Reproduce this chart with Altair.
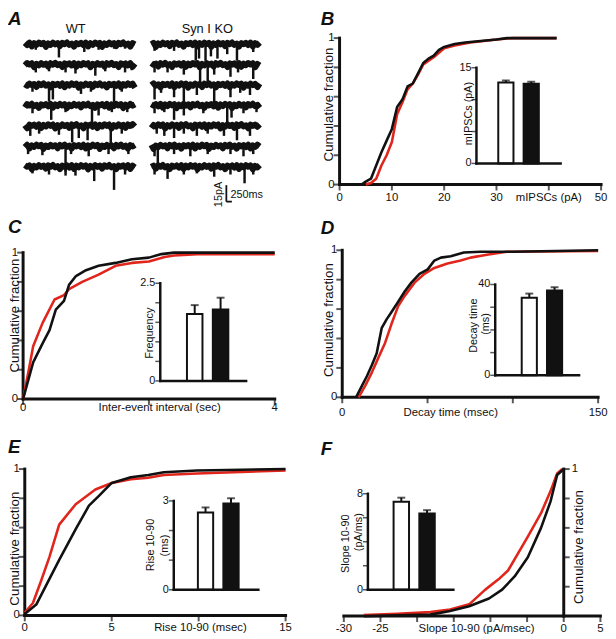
import altair as alt
import pandas as pd

W, H = 608, 631
FONT = "Liberation Sans"
RED = "#e0261c"
BLK = "#111111"
GROUPS = ["WT", "KO"]
LAB = 11.5

# ---------------- Panel A: example traces (event time fraction, amplitude pA) ----------------
GROUP_NAMES = ["WT", "Syn I KO"]
WT_EVENTS = [
    [(0.10, 4), (0.20, 3), (0.31, 11), (0.54, 6), (0.67, 4), (0.81, 3), (0.91, 3)],
    [(0.10, 6), (0.22, 5), (0.37, 6), (0.46, 7), (0.64, 9), (0.73, 5), (0.91, 6), (0.97, 4)],
    [(0.07, 5), (0.22, 14), (0.255, 12), (0.51, 7), (0.60, 5), (0.81, 17), (0.88, 5)],
    [(0.07, 6), (0.24, 12), (0.37, 5), (0.61, 16), (0.67, 8), (0.79, 5), (0.93, 5)],
    [(0.05, 8), (0.13, 6), (0.31, 7), (0.43, 14), (0.49, 10), (0.57, 12), (0.78, 15), (0.88, 6)],
    [(0.03, 6), (0.16, 7), (0.37, 22), (0.42, 6), (0.58, 8), (0.76, 6), (0.94, 6)],
    [(0.07, 5), (0.22, 6), (0.37, 7), (0.46, 7), (0.63, 12), (0.81, 20), (0.91, 6)],
]
KO_EVENTS = [
    [(0.03, 5), (0.21, 5), (0.41, 14), (0.44, 12), (0.50, 14), (0.55, 10), (0.61, 12), (0.70, 8), (0.79, 14), (0.94, 6)],
    [(0.03, 6), (0.15, 6), (0.30, 8), (0.45, 14), (0.52, 16), (0.58, 8), (0.73, 10), (0.80, 6), (0.94, 12)],
    [(0.03, 12), (0.09, 6), (0.21, 10), (0.30, 14), (0.42, 8), (0.58, 16), (0.73, 10), (0.82, 6), (0.91, 8)],
    [(0.03, 6), (0.12, 5), (0.21, 12), (0.30, 8), (0.48, 6), (0.70, 14), (0.74, 10), (0.85, 6), (0.97, 5)],
    [(0.05, 6), (0.12, 8), (0.21, 10), (0.30, 6), (0.42, 8), (0.52, 6), (0.67, 8), (0.79, 12), (0.91, 8)],
    [(0.03, 8), (0.06, 18), (0.21, 6), (0.36, 8), (0.52, 6), (0.73, 6), (0.85, 8), (0.94, 6)],
    [(0.03, 6), (0.15, 10), (0.30, 6), (0.42, 5), (0.58, 8), (0.73, 6), (0.86, 14), (0.94, 6)],
]
NOISE = [0.8, -1.2, 1.0, -2.4, 0.5, -1.0, 1.1, -0.4, 0.9, -2.8, 0.3, -1.1,
         1.0, -0.6, 0.6, -2.2, 0.9, -0.5, 1.2, -1.0, 0.2, -2.6, 0.7, -0.5]
TRACE_START = [0.0, 5.74]
TRACE_LEN = [5.0, 4.92]
ROW_STEP = 18.6
N_PTS = 48
GROUP_LABEL_T = [2.31, 8.28]
GROUP_LABEL_V = [13.5, 13.5]
SCALEBAR_T = [9.145, 9.395]     # 250 ms
SCALEBAR_V = [-143.8, -128.8]   # 15 pA

# ---------------- Cumulative distributions ----------------
B_WT_X = [5, 6, 7, 8, 9, 10, 11, 12, 13, 14, 15, 16, 18, 20, 22, 25, 30, 33, 41.5]
B_WT_Y = [0, 0.01, 0.04, 0.13, 0.2, 0.29, 0.48, 0.56, 0.65, 0.69, 0.75, 0.82, 0.87, 0.93, 0.95, 0.97, 0.99, 1.0, 1.0]
B_KO_X = [4.2, 5, 6, 7, 8, 9, 10, 11, 12, 13, 14, 15, 16, 17, 18, 19, 20, 22, 24, 27, 30, 32, 41.5]
B_KO_Y = [0, 0.02, 0.04, 0.13, 0.22, 0.3, 0.38, 0.53, 0.58, 0.67, 0.69, 0.76, 0.83, 0.86, 0.88, 0.92, 0.94, 0.96, 0.97, 0.98, 0.99, 1.0, 1.0]

C_WT_X = [0, 0.1, 0.16, 0.31, 0.5, 0.65, 0.73, 0.94, 1.2, 1.47, 1.73, 2.0, 2.25, 2.4, 2.77, 4.0]
C_WT_Y = [0, 0.22, 0.36, 0.52, 0.68, 0.71, 0.75, 0.8, 0.85, 0.91, 0.93, 0.94, 0.97, 0.98, 0.99, 0.99]
C_KO_X = [0, 0.16, 0.31, 0.42, 0.52, 0.65, 0.73, 0.84, 1.0, 1.2, 1.47, 1.73, 2.0, 2.2, 2.4, 4.0]
C_KO_Y = [0, 0.25, 0.38, 0.47, 0.61, 0.67, 0.78, 0.84, 0.88, 0.91, 0.93, 0.955, 0.966, 0.99, 1.0, 1.0]

D_WT_X = [9.6, 13.5, 17.4, 21.2, 25.1, 28.9, 32.8, 36.6, 42.4, 48.2, 54, 61.7, 69.4, 75.2, 84.8, 96.4, 150]
D_WT_Y = [0, 0.08, 0.17, 0.27, 0.37, 0.5, 0.62, 0.69, 0.78, 0.84, 0.88, 0.91, 0.93, 0.95, 0.97, 0.99, 0.995]
D_KO_X = [8.1, 11.6, 14.5, 17.4, 20.2, 23.1, 26, 28.9, 32.8, 36.6, 40.5, 45.3, 50.1, 54, 57.8, 63.6, 71.3, 81, 100, 150]
D_KO_Y = [0, 0.08, 0.145, 0.22, 0.3, 0.47, 0.53, 0.58, 0.65, 0.72, 0.78, 0.84, 0.87, 0.93, 0.95, 0.96, 0.985, 0.99, 0.99, 1.0]

E_WT_X = [0, 0.47, 0.95, 1.42, 1.98, 2.93, 4.06, 5.0, 6.1, 7.1, 8.0, 9.9, 15]
E_WT_Y = [0.02, 0.085, 0.24, 0.4, 0.62, 0.76, 0.86, 0.905, 0.93, 0.94, 0.96, 0.97, 0.99]
E_KO_X = [0, 0.66, 1.42, 1.98, 2.93, 3.69, 4.25, 5.0, 6.1, 7.1, 8.0, 9.9, 15]
E_KO_Y = [0.01, 0.074, 0.25, 0.38, 0.59, 0.75, 0.815, 0.905, 0.944, 0.96, 0.978, 0.99, 1.0]

F_WT_X = [-27.3, -22.7, -18.2, -15.5, -12.9, -10.7, -8.9, -7.6, -4.9, -3.1, -1.8, -0.9, -0.2]
F_WT_Y = [0.007, 0.015, 0.027, 0.045, 0.08, 0.18, 0.25, 0.31, 0.54, 0.7, 0.85, 0.97, 1.0]
F_KO_X = [-27.3, -18.2, -15.5, -12.9, -10.2, -8.4, -6.7, -4.9, -3.1, -1.8, -0.9, 0]
F_KO_Y = [0.0, 0.01, 0.035, 0.067, 0.12, 0.18, 0.27, 0.4, 0.6, 0.78, 0.96, 1.0]

# ---------------- axis ticks / labels ----------------
FRAC_TICKS = [0, 0.2, 0.4, 0.6, 0.8, 1]
B_XTICKS = [0, 10, 20, 30, 40, 50]
B_XLAB_AT = [0, 10, 20, 30, 40, 50]
B_XLABELS = ["0", "10", "20", "30", "mIPSCs (pA)", "50"]
C_XTICKS = [0, 2, 4]
C_XLAB_AT = [0, 2.17, 4]
C_XLABELS = ["0", "Inter-event interval (sec)", "4"]
D_XTICKS = [0, 50, 100, 150]
D_XLAB_AT = [0, 63.6, 150]
D_XLABELS = ["0", "Decay time (msec)", "150"]
E_XTICKS = [0, 5, 10, 15]
E_XLAB_AT = [0, 5, 10.1, 15]
E_XLABELS = ["0", "5", "Rise 10-90 (msec)", "15"]
F_XTICKS = [-30, -25, -20, -15, -10, -5, 0, 5]
F_XLAB_AT = [-30, -25, -11.9, 0, 5]
F_XLABELS = ["-30", "-25", "Slope 10-90 (pA/msec)", "0", "5"]

# ---------------- Inset bar values (WT, KO) ----------------
B_MEAN, B_ERR = [12.7, 12.5], [0.3, 0.3]
C_MEAN, C_ERR = [1.71, 1.83], [0.23, 0.30]
D_MEAN, D_ERR = [34.2, 37.4], [1.8, 1.4]
E_MEAN, E_ERR = [2.61, 2.91], [0.17, 0.18]
F_MEAN, F_ERR = [7.34, 6.36], [0.33, 0.27]


# ---------------- helpers ----------------
def curve_panel(wt_x, wt_y, ko_x, ko_y, xdom, xrange, yrange, xticks, xlab_at, xlabs, xlab_dy,
                yaxis_at, ylab_at, ylabs, side, title_y, title_dx):
    xs = alt.Scale(domain=xdom, range=xrange, nice=False, zero=False)
    ys = alt.Scale(domain=[0, 1], range=yrange, nice=False, zero=False)

    def X(f):
        return alt.X(f, scale=xs, axis=None)

    def Y(f):
        return alt.Y(f, scale=ys, axis=None)

    sgn = -1 if side == "left" else 1
    layers = [
        alt.Chart(pd.DataFrame({"x": [xdom[0]], "x2": [xdom[1]], "y": [0]})).mark_rule(
            color=BLK, strokeWidth=3, strokeCap="square").encode(x=X("x:Q"), x2="x2:Q", y=Y("y:Q")),
        alt.Chart(pd.DataFrame({"x": [yaxis_at], "y": [0], "y2": [1]})).mark_rule(
            color=BLK, strokeWidth=3, strokeCap="square").encode(x=X("x:Q"), y=Y("y:Q"), y2="y2:Q"),
        alt.Chart(pd.DataFrame({"x": xticks, "y": [0] * len(xticks)})).mark_tick(
            orient="vertical", size=6, thickness=2, yOffset=3, color=BLK).encode(x=X("x:Q"), y=Y("y:Q")),
        alt.Chart(pd.DataFrame({"x": [yaxis_at] * len(FRAC_TICKS), "y": FRAC_TICKS})).mark_tick(
            orient="horizontal", size=6, thickness=2, xOffset=3 * sgn, color=BLK).encode(x=X("x:Q"), y=Y("y:Q")),
        alt.Chart(pd.DataFrame({"x": xlab_at, "y": [0] * len(xlab_at), "label": xlabs})).mark_text(
            font=FONT, fontSize=LAB, color=BLK, align="center", baseline="middle", dy=xlab_dy).encode(
            x=X("x:Q"), y=Y("y:Q"), text="label:N"),
        alt.Chart(pd.DataFrame({"x": [yaxis_at] * len(ylab_at), "y": ylab_at, "label": ylabs})).mark_text(
            font=FONT, fontSize=LAB, color=BLK, align="right" if side == "left" else "left",
            baseline="middle", dx=-5 if side == "left" else 8).encode(
            x=X("x:Q"), y=Y("y:Q"), text="label:N"),
        alt.Chart(pd.DataFrame({"x": [yaxis_at], "y": [title_y], "label": ["Cumulative fraction"]})).mark_text(
            font=FONT, fontSize=13.5, color=BLK, align="center", baseline="middle", angle=270,
            xOffset=title_dx).encode(x=X("x:Q"), y=Y("y:Q"), text="label:N"),
        alt.Chart(pd.DataFrame({"x": wt_x, "y": wt_y})).mark_line(
            color=RED, strokeWidth=2.6, strokeJoin="round").encode(x=X("x:Q"), y=Y("y:Q")),
        alt.Chart(pd.DataFrame({"x": ko_x, "y": ko_y})).mark_line(
            color=BLK, strokeWidth=2.6, strokeJoin="round").encode(x=X("x:Q"), y=Y("y:Q")),
    ]
    return alt.layer(*layers)


def inset_panel(means, errs, ymax, yticks, xrange, yrange, align, title_lines):
    df = pd.DataFrame({"group": GROUPS, "mean": means,
                       "upper": [m + e for m, e in zip(means, errs)]})
    xs = alt.Scale(domain=GROUPS, range=xrange, paddingInner=0.4, paddingOuter=0.86, align=align)
    ys = alt.Scale(domain=[0, ymax], range=yrange, nice=False, zero=False)

    def Y(f):
        return alt.Y(f, scale=ys, axis=None)

    x0, x1 = xrange
    top_label = str(ymax)
    layers = [
        alt.Chart(df).mark_bar(stroke=BLK, strokeWidth=2).encode(
            x=alt.X("group:N", scale=xs, axis=None), y=Y("mean:Q"),
            fill=alt.Fill("group:N", scale=alt.Scale(domain=GROUPS, range=["white", BLK]), legend=None)),
        alt.Chart(df).mark_rule(color=BLK, strokeWidth=2).encode(
            x=alt.X("group:N", scale=xs, axis=None), y=Y("mean:Q"), y2="upper:Q"),
        alt.Chart(df).mark_tick(color=BLK, thickness=2, size=8).encode(
            x=alt.X("group:N", scale=xs, axis=None), y=Y("upper:Q")),
        alt.Chart(pd.DataFrame({"y": [0], "y2": [ymax]})).mark_rule(
            color=BLK, strokeWidth=2.5, strokeCap="square").encode(x=alt.value(x0), y=Y("y:Q"), y2="y2:Q"),
        alt.Chart(pd.DataFrame({"y": [0]})).mark_rule(
            color=BLK, strokeWidth=2.5, strokeCap="square").encode(x=alt.value(x0), x2=alt.value(x1), y=Y("y:Q")),
        alt.Chart(pd.DataFrame({"y": yticks})).mark_tick(
            orient="horizontal", size=5, thickness=1.5, xOffset=-2.5, color=BLK).encode(
            x=alt.value(x0), y=Y("y:Q")),
        alt.Chart(pd.DataFrame({"y": [0, ymax], "label": ["0", top_label]})).mark_text(
            font=FONT, fontSize=11, color=BLK, align="right", baseline="middle", dx=-5).encode(
            x=alt.value(x0), y=Y("y:Q"), text="label:N"),
    ]
    for txt, dx, ty in title_lines:
        layers.append(alt.Chart(pd.DataFrame({"label": [txt]})).mark_text(
            font=FONT, fontSize=11, color=BLK, align="center", baseline="middle", angle=270).encode(
            x=alt.value(x0 + dx), y=alt.value(ty), text="label:N"))
    return alt.layer(*layers)


def letter(txt, x, y):
    return alt.Chart(pd.DataFrame({"label": [txt]})).mark_text(
        font=FONT, fontSize=19, fontWeight="bold", fontStyle="italic",
        align="left", baseline="alphabetic", color=BLK).encode(
        x=alt.value(x), y=alt.value(y), text="label:N")


# ---------------- Panel A ----------------
trace_rows, spike_rows = [], []
for g, events in enumerate([WT_EVENTS, KO_EVENTS]):
    for r, row_events in enumerate(events):
        base = -ROW_STEP * r
        for k in range(N_PTS):
            t = TRACE_START[g] + TRACE_LEN[g] * k / (N_PTS - 1)
            trace_rows.append({"id": f"{g}-{r}", "t": t,
                               "v": base + NOISE[(k + 5 * r + 7 * g) % len(NOISE)]})
        for f, a in row_events:
            spike_rows.append({"t": TRACE_START[g] + TRACE_LEN[g] * f, "v": base, "v2": base - a - 1.5})

tsc = alt.Scale(domain=[0, 11], range=[17, 262.7], nice=False, zero=False)
vsc = alt.Scale(domain=[-150, 10], range=[198.9, 20.9], nice=False, zero=False)


def TX(f):
    return alt.X(f, scale=tsc, axis=None)


def VY(f):
    return alt.Y(f, scale=vsc, axis=None)


traces = alt.Chart(pd.DataFrame(trace_rows)).mark_line(
    color=BLK, strokeWidth=6, strokeJoin="round").encode(x=TX("t:Q"), y=VY("v:Q"), detail="id:N")
spikes = alt.Chart(pd.DataFrame(spike_rows)).mark_rule(color=BLK, strokeWidth=2.5).encode(
    x=TX("t:Q"), y=VY("v:Q"), y2="v2:Q")
sb_v = alt.Chart(pd.DataFrame({"t": [SCALEBAR_T[0]], "v": [SCALEBAR_V[0]], "v2": [SCALEBAR_V[1]]})).mark_rule(
    color=BLK, strokeWidth=1.8).encode(x=TX("t:Q"), y=VY("v:Q"), y2="v2:Q")
sb_h = alt.Chart(pd.DataFrame({"t": [SCALEBAR_T[0]], "t2": [SCALEBAR_T[1]], "v": [SCALEBAR_V[0]]})).mark_rule(
    color=BLK, strokeWidth=1.8).encode(x=TX("t:Q"), x2="t2:Q", y=VY("v:Q"))
grp_txt = alt.Chart(pd.DataFrame({"t": GROUP_LABEL_T, "v": GROUP_LABEL_V, "label": GROUP_NAMES})).mark_text(
    font=FONT, fontSize=13, color=BLK, baseline="middle").encode(x=TX("t:Q"), y=VY("v:Q"), text="label:N")
sb_t1 = alt.Chart(pd.DataFrame({"t": [9.333], "v": [-137.8], "label": ["250ms"]})).mark_text(
    font=FONT, fontSize=11, color=BLK, align="left", baseline="middle").encode(
    x=TX("t:Q"), y=VY("v:Q"), text="label:N")
sb_t2 = alt.Chart(pd.DataFrame({"t": [8.805], "v": [-137.3], "label": ["15pA"]})).mark_text(
    font=FONT, fontSize=11, color=BLK, align="center", baseline="middle", angle=270).encode(
    x=TX("t:Q"), y=VY("v:Q"), text="label:N")
panel_a = alt.layer(traces, spikes, sb_v, sb_h, grp_txt, sb_t1, sb_t2)

# ---------------- Panels B-F ----------------
panel_b = curve_panel(B_WT_X, B_WT_Y, B_KO_X, B_KO_Y, [0, 50], [336, 601], [174.7, 26.3],
                      B_XTICKS, B_XLAB_AT, B_XLABELS, 13.7, 0, [0, 1], ["0", "1"], "left", 0.547, -11)
inset_b = inset_panel(B_MEAN, B_ERR, 15, [0, 5, 10, 15], [474.7, 560], [153.3, 56.3], 0.5,
                      [("mIPSCs (pA)", -7.7, 102.7)])

panel_c = curve_panel(C_WT_X, C_WT_Y, C_KO_X, C_KO_Y, [0, 4], [15.3, 270.3], [392, 243.7],
                      C_XTICKS, C_XLAB_AT, C_XLABELS, 9.2, 0, [0, 1], ["0", "1"], "left", 0.57, -7.8)
inset_c = inset_panel(C_MEAN, C_ERR, 2.5, [0, 0.5, 1, 1.5, 2, 2.5], [154.3, 241.3], [373.7, 274.7], 0.6,
                      [("Frequency", -10.6, 325.3)])

panel_d = curve_panel(D_WT_X, D_WT_Y, D_KO_X, D_KO_Y, [0, 150], [338.7, 598], [390.3, 241.3],
                      D_XTICKS, D_XLAB_AT, D_XLABELS, 16.4, 0, [0, 1], ["0", "1"], "left", 0.525, -13.7)
inset_d = inset_panel(D_MEAN, D_ERR, 40, [0, 10, 20, 30, 40], [493.7, 578.7], [368, 276], 0.61,
                      [("Decay time", -21.7, 317.7), ("(ms)", -9, 316)])

panel_e = curve_panel(E_WT_X, E_WT_Y, E_KO_X, E_KO_Y, [0, 15], [17, 281.3], [611.3, 463],
                      E_XTICKS, E_XLAB_AT, E_XLABELS, 12.4, 0, [0, 1], ["0", "1"], "left", 0.456, -9.5)
inset_e = inset_panel(E_MEAN, E_ERR, 3, [0, 1, 2, 3], [168, 253.7], [585.3, 495.3], 0.55,
                      [("Rise 10-90", -23, 540), ("(ms)", -8.5, 540.5)])

panel_f = curve_panel(F_WT_X, F_WT_Y, F_KO_X, F_KO_Y, [-30, 5], [340.3, 600.3], [612, 463],
                      F_XTICKS, F_XLAB_AT, F_XLABELS, 12.7, 0, [1], ["1"], "right", 0.47, 16)
inset_f = inset_panel(F_MEAN, F_ERR, 8, [0, 2, 4, 6, 8], [364.7, 451.3], [585.3, 488], 0.58,
                      [("Slope 10-90", -21.9, 538.7), ("(pA/ms)", -8.7, 527)])

letters = [letter("A", 0, 13.5), letter("B", 317, 13.5), letter("C", 0, 224),
           letter("D", 317, 225), letter("E", 0, 447), letter("F", 317, 449)]

chart = alt.layer(
    panel_a, panel_b, inset_b, panel_c, inset_c, panel_d, inset_d,
    panel_e, inset_e, panel_f, inset_f, *letters
).resolve_scale(
    x="independent", y="independent", fill="independent"
).properties(
    width=W, height=H, padding=0, autosize=alt.AutoSizeParams(type="none")
).configure_view(stroke=None)

chart.save("out.html", embed_options={"renderer": "svg", "actions": False})
